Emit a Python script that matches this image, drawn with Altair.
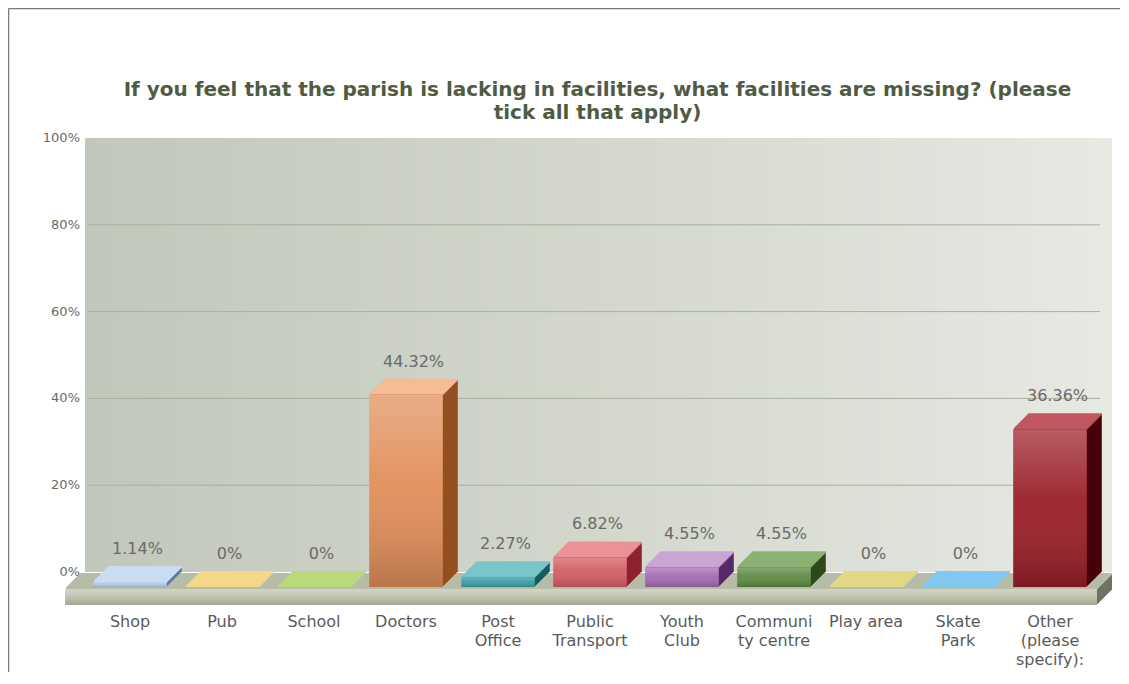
import altair as alt
import pandas as pd

# ---------------- data ----------------
categories = ["Shop", "Pub", "School", "Doctors", "Post Office", "Public Transport",
              "Youth Club", "Community centre", "Play area", "Skate Park",
              "Other (please specify):"]
values = [1.14, 0, 0, 44.32, 2.27, 6.82, 4.55, 4.55, 0, 0, 36.36]
value_labels = ["1.14%", "0%", "0%", "44.32%", "2.27%", "6.82%", "4.55%", "4.55%",
                "0%", "0%", "36.36%"]
axis_labels = ["Shop", "Pub", "School", "Doctors", "Post\nOffice", "Public\nTransport",
               "Youth\nClub", "Communi\nty centre", "Play area", "Skate\nPark",
               "Other\n(please\nspecify):"]
y_ticks = [0, 20, 40, 60, 80, 100]
title_text = ("If you feel that the parish is lacking in facilities, what facilities are missing? (please\n"
              "tick all that apply)")

# ---------------- styles ----------------
front_colors = ["#aec6e2", "#e8c458", "#9cc050", "#e28e5a", "#3a9ea4", "#d45c64",
                "#a26cb0", "#5e8a44", "#ccc456", "#4aa8dc", "#9a1e28"]
side_colors = ["#5d7e9c", "#a88420", "#66862a", "#94501f", "#1c5a5e", "#8e2430",
               "#5a2a68", "#2e4a1c", "#8a8420", "#2a6c9c", "#480008"]
top_colors = ["#cadcf2", "#f2d888", "#bcd87c", "#f6bc96", "#78c6ca", "#ea9296",
              "#caa4d4", "#8cb272", "#e0d884", "#80c8ee", "#c2585f"]

DEPTH = 15
W, H = 1012, 434

df = pd.DataFrame({"cat": categories, "value": values, "vlabel": value_labels,
                   "xlabel": axis_labels, "front": front_colors,
                   "side": side_colors, "top": top_colors})
one = pd.DataFrame({"d": [0]})
title_df = pd.DataFrame({"t": [title_text]})
grid_df = pd.DataFrame({"v": y_ticks[1:-1]})
tick_df = pd.DataFrame({"v": y_ticks})

xs = alt.X("cat:N", sort=categories,
           scale=alt.Scale(paddingInner=0.2, paddingOuter=0.1), axis=None)
ys = alt.Y("value:Q", scale=alt.Scale(domain=[0, 100]), axis=None)

layers = []

# back wall
wall_grad = alt.LinearGradient(gradient="linear", x1=0, y1=0, x2=1, y2=0,
                               stops=[alt.GradientStop(color="#c2c7bb", offset=0),
                                      alt.GradientStop(color="#d3d7cc", offset=0.5),
                                      alt.GradientStop(color="#e7e9e3", offset=1)])
layers.append(alt.Chart(one).mark_rect(fill=wall_grad, strokeWidth=0).encode(
    x=alt.value(1), x2=alt.value(1028), y=alt.value(0), y2=alt.value(H)))

# gridlines
layers.append(alt.Chart(grid_df).mark_rule(color="#a9b09c", strokeWidth=1).encode(
    y=alt.Y("v:Q", scale=alt.Scale(domain=[0, 100]), axis=None),
    x=alt.value(4), x2=alt.value(1016)))

# y-axis labels
layers.append(alt.Chart(tick_df).mark_text(align="right", baseline="middle", dx=-4,
                                           font="DejaVu Sans", fontSize=13,
                                           color="#6a6a6a").encode(
    y=alt.Y("v:Q", scale=alt.Scale(domain=[0, 100]), axis=None),
    x=alt.value(0),
    text=alt.Text("lab:N")).transform_calculate(lab="datum.v + '%'"))

# floor slab (extruded)
for k in range(DEPTH, 0, -1):
    layers.append(alt.Chart(one).mark_rect(color="#6d7464", strokeWidth=0).encode(
        x=alt.value(-19 + k), x2=alt.value(1013 + k),
        y=alt.value(451 - k), y2=alt.value(467 - k)))
    layers.append(alt.Chart(one).mark_rect(color="#b7bca6", strokeWidth=0).encode(
        x=alt.value(-19 + k), x2=alt.value(1013 + k),
        y=alt.value(450 - k), y2=alt.value(452 - k)))
floor_grad = alt.LinearGradient(gradient="linear", x1=0, y1=0, x2=0, y2=1,
                                stops=[alt.GradientStop(color="#d2d5c5", offset=0),
                                       alt.GradientStop(color="#c0c4af", offset=0.5),
                                       alt.GradientStop(color="#a2a792", offset=1)])
layers.append(alt.Chart(one).mark_rect(fill=floor_grad, strokeWidth=0).encode(
    x=alt.value(-19), x2=alt.value(1013), y=alt.value(451), y2=alt.value(467)))

# bars: extruded side + top faces
base = alt.Chart(df)
for k in range(DEPTH, 0, -1):
    layers.append(base.mark_bar(xOffset=k, yOffset=DEPTH - k, strokeWidth=0).encode(
        x=xs, y=ys, color=alt.Color("side:N", scale=None)))
    layers.append(base.mark_tick(xOffset=k, yOffset=DEPTH - k, thickness=2, size=73.6,
                                 opacity=1).encode(
        x=xs, y=ys, color=alt.Color("top:N", scale=None)))

# front faces
layers.append(base.mark_bar(yOffset=DEPTH, strokeWidth=0).encode(
    x=xs, y=ys, color=alt.Color("front:N", scale=None)))
shade = alt.LinearGradient(gradient="linear", x1=0, y1=0, x2=0, y2=1,
                           stops=[alt.GradientStop(color="rgba(255,255,255,0.28)", offset=0),
                                  alt.GradientStop(color="rgba(255,255,255,0.05)", offset=0.45),
                                  alt.GradientStop(color="rgba(0,0,0,0.18)", offset=1)])
layers.append(base.mark_bar(yOffset=DEPTH, fill=shade, strokeWidth=0).encode(x=xs, y=ys))

# value labels
layers.append(base.mark_text(baseline="bottom", dy=-10, xOffset=7.5,
                             font="DejaVu Sans", fontSize=16, color="#6a6a6a").encode(
    x=xs, y=ys, text="vlabel:N"))

# category labels
layers.append(base.mark_text(baseline="top", lineBreak="\n", lineHeight=19,
                             font="DejaVu Sans", fontSize=16, color="#5a5a5a").encode(
    x=xs, y=alt.value(476), text="xlabel:N"))

# title
layers.append(alt.Chart(title_df).mark_text(baseline="top", align="center", lineBreak="\n",
                                            lineHeight=23, font="DejaVu Sans", fontSize=20,
                                            fontWeight="bold", color="#4f5b43").encode(
    x=alt.value(513.5), y=alt.value(-58), text="t:N"))

# frame lines
layers.append(alt.Chart(one).mark_rule(color="#7a7a7a", strokeWidth=1.5).encode(
    x=alt.value(-75.5), x2=alt.value(1040), y=alt.value(-129.5)))
layers.append(alt.Chart(one).mark_rule(color="#7a7a7a", strokeWidth=1.5).encode(
    x=alt.value(-75.5), y=alt.value(-129.5), y2=alt.value(540)))

chart = alt.layer(*layers).properties(
    width=W, height=H,
    padding={"left": 76, "top": 130, "right": 24, "bottom": 100},
    autosize=alt.AutoSizeParams(type="none"),
).configure_view(strokeWidth=0)

chart.save("out.html", embed_options={"renderer": "svg", "actions": False})
